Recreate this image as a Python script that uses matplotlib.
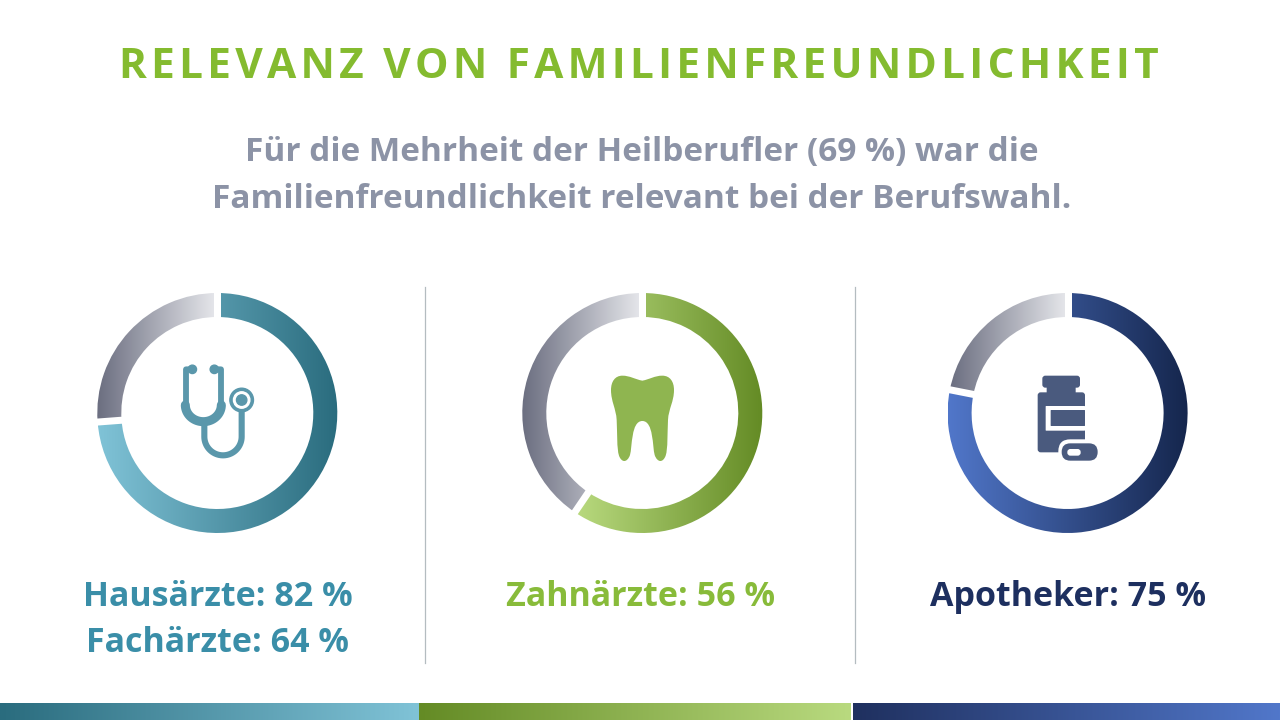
import matplotlib
matplotlib.use("Agg")
import matplotlib.pyplot as plt
import numpy as np
from matplotlib.colors import LinearSegmentedColormap
from matplotlib.patches import Circle, FancyBboxPatch, PathPatch, Wedge
from matplotlib.path import Path

# ── Data ───────────────────────────────────────────────────────────────────────
TITLE = "RELEVANZ VON FAMILIENFREUNDLICHKEIT"
SUBTITLE = ["Für die Mehrheit der Heilberufler (69 %) war die",
            "Familienfreundlichkeit relevant bei der Berufswahl."]
ring_shares = [73.8, 59.5, 78.1]   # coloured part of each ring, as drawn (%)
labels_left = ["Hausärzte: 82 %", "Fachärzte: 64 %"]
labels_mid = ["Zahnärzte: 56 %"]
labels_right = ["Apotheker: 75 %"]

# ── Style ──────────────────────────────────────────────────────────────────────
FONT = "Open Sans"
GRAY_RAMP = ("#6b6e80", "#e7e8ec")
TEAL_RAMP = ("#80c3d7", "#2a6c7e")
GREEN_RAMP = ("#b9da7f", "#648b25")
BLUE_RAMP = ("#5177ca", "#15264d")
NAVY_BAR = ("#1f305f", "#5177ca")
CENTERS = [217.3, 642.3, 1067.6]
CY = 413
R_OUT, R_IN = 120, 96
GAP_PX = 7

plt.rcParams["font.family"] = [FONT, "DejaVu Sans"]
fig = plt.figure(figsize=(12.8, 7.2), dpi=100)
ax = fig.add_axes([0, 0, 1, 1])


def gradient(ramp, x0, x1, y0, y1, clip=None):
    cmap = LinearSegmentedColormap.from_list("ramp", list(ramp))
    im = ax.imshow(np.linspace(0, 1, 256).reshape(1, -1), cmap=cmap, aspect="auto",
                   extent=(x0, x1, y1, y0), interpolation="bilinear", zorder=1)
    if clip is not None:
        ax.add_patch(clip)
        clip.set_visible(False)
        im.set_clip_path(clip)


def ring(cx, share, ramp):
    split = -90 + share * 3.6
    for t1, t2, colors in [(-90, split, ramp), (split, 270, GRAY_RAMP)]:
        w = Wedge((cx, CY), R_OUT, t1, t2, width=R_OUT - R_IN)
        box = w.get_path().get_extents()
        gradient(colors, box.x0, box.x1, CY - R_OUT, CY + R_OUT, clip=w)
    # parallel-sided white gaps between the segments
    for deg in (-90, split):
        a = np.radians(deg)
        ax.plot([cx + (R_IN - 3) * np.cos(a), cx + (R_OUT + 3) * np.cos(a)],
                [CY + (R_IN - 3) * np.sin(a), CY + (R_OUT + 3) * np.sin(a)],
                color="white", lw=GAP_PX * 0.72, solid_capstyle="butt", zorder=2)


def stethoscope(ox, oy, c="#5a97ab"):
    z = lambda x, y: (ox + x / 3, oy + y / 3)
    # ear tubes and chest arc
    t = np.linspace(np.pi, 0, 40)
    xs = [97, 78, 78] + list(130 + 52 * np.cos(t)) + [183, 183, 163]
    ys = [58, 58, 165] + list(165 + 50 * np.sin(t)) + [165, 58, 58]
    ax.plot(*zip(*[z(x, y) for x, y in zip(xs, ys)]), color=c, lw=4.2,
            solid_joinstyle="round", solid_capstyle="round", zorder=3)
    # thicker lower part of the chest arc
    t2 = np.linspace(np.pi, 0, 40)
    p = [z(130 + 54 * np.cos(a), 165 + 50 * np.sin(a)) for a in t2]
    ax.plot(*zip(*p), color=c, lw=6.5, solid_capstyle="round", zorder=3)
    # ear tips
    for x in (97, 163):
        ax.add_patch(Circle(z(x, 58), 4.2, color=c, zorder=3))
    # lower tube up to the disc
    t3 = np.linspace(np.pi, 0, 40)
    xs = [133] + list(189 + 56 * np.cos(t3)) + [245]
    ys = [220] + list(260 + 56 * np.sin(t3)) + [175]
    ax.plot(*zip(*[z(x, y) for x, y in zip(xs, ys)]), color=c, lw=4.4, zorder=3)
    ax.add_patch(Circle(z(245, 150), 11.8, color=c, zorder=3))
    ax.add_patch(Circle(z(245, 150), 8.2, color="white", zorder=3))
    ax.add_patch(Circle(z(245, 150), 5.2, color=c, zorder=3))


def tooth(ox, oy, c="#8fb550"):
    z = lambda x, y: (ox + x / 3, oy + y / 3)
    M, C = Path.MOVETO, Path.CURVE4
    pts = [(412, 302),
           (390, 298), (375, 287), (352, 287),
           (330, 287), (318, 305), (318, 330),
           (318, 365), (333, 385), (335, 420),
           (337, 460), (335, 505), (342, 527),
           (346, 538), (352, 543), (358, 543),
           (364, 543), (371, 537), (375, 525),
           (382, 500), (378, 423), (412, 423),
           (446, 423), (442, 500), (449, 525),
           (453, 537), (460, 543), (466, 543),
           (472, 543), (478, 538), (482, 527),
           (489, 505), (487, 460), (489, 420),
           (491, 385), (507, 365), (507, 330),
           (507, 305), (495, 287), (472, 287),
           (449, 287), (434, 298), (412, 302)]
    codes = [M] + [C] * (len(pts) - 1)
    ax.add_patch(PathPatch(Path([z(*q) for q in pts], codes), fc=c, ec="none", zorder=3))


def bottle(ox, oy, c="#4a5a7e"):
    z = lambda x, y: (ox + x / 3, oy + y / 3)

    def rbox(x0, y0, x1, y1, r, color):
        (a, b), (d, e) = z(x0, y0), z(x1, y1)
        ax.add_patch(FancyBboxPatch((a + r, b + r), d - a - 2 * r, e - b - 2 * r,
                                    boxstyle=f"round,pad={r},rounding_size={r}",
                                    fc=color, ec="none", zorder=3))

    rbox(337, 287, 450, 323, 3, c)
    rbox(350, 315, 437, 345, 0.5, c)
    rbox(323, 337, 465, 517, 3, c)
    rbox(347, 378, 465, 452, 0.5, "white")
    rbox(362, 390, 465, 438, 0.5, c)
    rbox(385, 478, 515, 554, 12, "white")
    rbox(395, 490, 503, 542, 8.6, c)
    rbox(412, 507, 452, 527, 3, "white")


# ── Rings and icons ────────────────────────────────────────────────────────────
for cx, share, ramp in zip(CENTERS, ring_shares, [TEAL_RAMP, GREEN_RAMP, BLUE_RAMP]):
    ring(cx, share, ramp)
stethoscope(160, 350)
tooth(505, 280)
bottle(930, 280)

# ── Dividers and bottom bars ───────────────────────────────────────────────────
for x in (424.5, 854.5):
    ax.plot([x, x], [287, 663], color="#b4bcc0", lw=0.9, zorder=1)
gradient(TEAL_RAMP[::-1], 0, 419, 703, 720)
gradient(GREEN_RAMP[::-1], 419, 851, 703, 720)
gradient(NAVY_BAR, 853, 1280, 703, 720)

# ── Text ───────────────────────────────────────────────────────────────────────
# the title is tracked out, hair spaces between the letters do that
ax.text(638.5, 62, "\u200a".join(TITLE), color="#84bb2f", fontsize=30.5, fontweight="bold",
        ha="center", va="center_baseline")
for y, line, in zip((149, 196), SUBTITLE):
    ax.text(642, y, line, color="#8c93a6", fontsize=24, fontweight="bold",
            ha="center", va="center_baseline")
for y, line in zip((593, 639), labels_left):
    ax.text(217.5, y, line, color="#3a8ea8", fontsize=24.5, fontweight="bold",
            ha="center", va="center_baseline")
ax.text(640.5, 593, labels_mid[0], color="#88bb3a", fontsize=24.5, fontweight="bold",
        ha="center", va="center_baseline")
ax.text(1067.5, 593, labels_right[0], color="#1d2f5f", fontsize=24.5, fontweight="bold",
        ha="center", va="center_baseline")

ax.set_xlim(0, 1280)
ax.set_ylim(720, 0)
ax.axis("off")
fig.savefig("out.png", dpi=100)
